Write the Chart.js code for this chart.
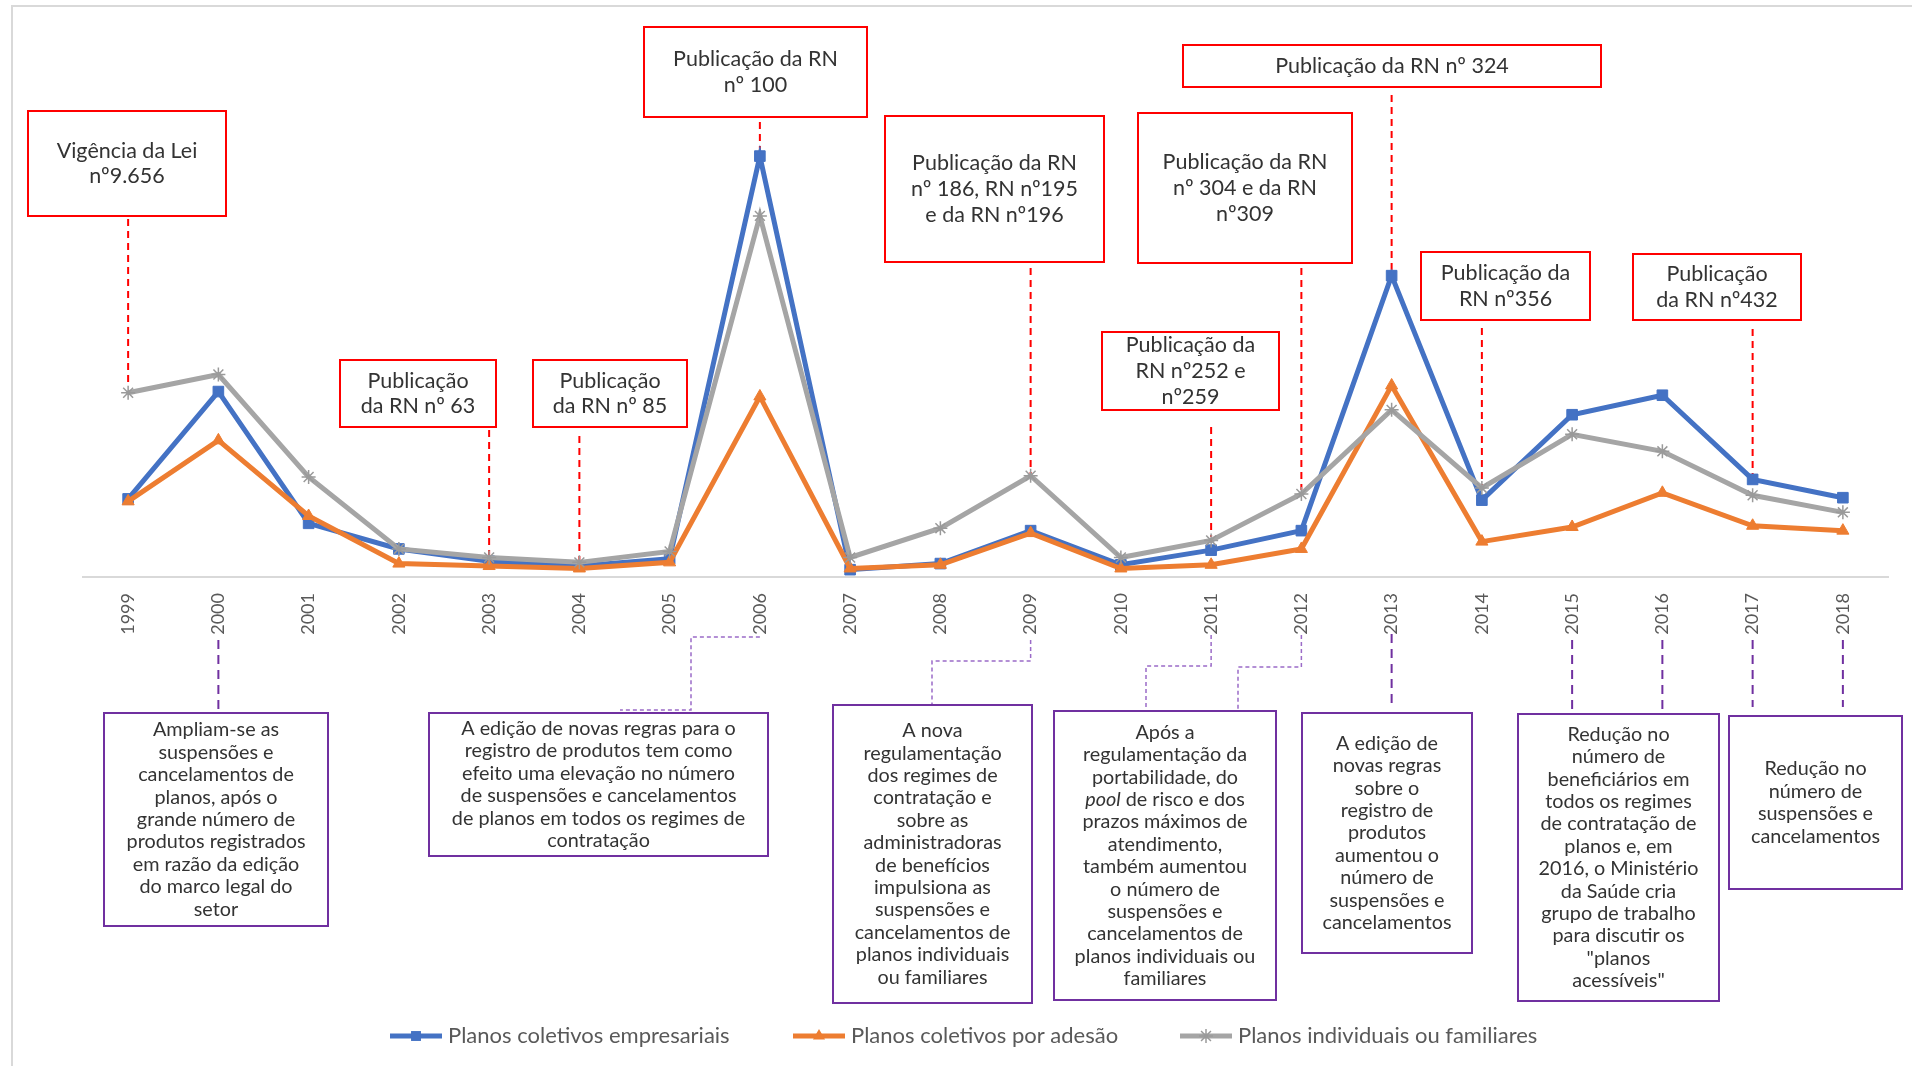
<!DOCTYPE html>
<html><head><meta charset="utf-8">
<script src="https://cdn.jsdelivr.net/npm/chart.js@4.4.1/dist/chart.umd.min.js"></script>
<style>
html,body{margin:0;padding:0;background:#fff;overflow:hidden}
#wrap{position:absolute;left:0;top:0;width:1912px;height:1066px;overflow:hidden}
#frame{position:absolute;left:11px;top:5px;width:1920px;height:1100px;border-left:2px solid #d9d9d9;border-top:2px solid #d9d9d9}
canvas{position:absolute;left:0;top:0}
</style></head><body>
<div id="wrap"><div id="frame"></div><canvas id="c" width="1912" height="1066"></canvas></div>
<script>
// ---- data ----
const years = ['1999','2000','2001','2002','2003','2004','2005','2006','2007','2008','2009','2010','2011','2012','2013','2014','2015','2016','2017','2018'];
const seriesNames = ['Planos coletivos empresariais','Planos coletivos por adesão','Planos individuais ou familiares'];
const empresariais = [1280,3040,880,460,260,180,300,6900,120,220,760,200,440,760,4940,1260,2660,2980,1600,1300];
const adesao       = [1240,2240,1000,220,180,140,240,2960,140,200,720,140,200,460,3140,580,820,1380,840,760];
const individuais  = [3020,3320,1640,460,320,240,420,5920,320,800,1660,320,600,1360,2740,1460,2340,2060,1340,1060];

// ---- annotations (text) ----
const redNotes = [
  {year:0,  lines:['Vigência da Lei','nº9.656']},
  {year:7,  lines:['Publicação da RN','nº 100']},
  {year:4,  lines:['Publicação','da RN nº 63']},
  {year:5,  lines:['Publicação','da RN nº 85']},
  {year:10, lines:['Publicação da RN','nº 186, RN nº195','e da RN nº196']},
  {year:13, lines:['Publicação da RN','nº 304 e da RN','nº309']},
  {year:14, lines:['Publicação da RN nº 324']},
  {year:12, lines:['Publicação da','RN nº252 e','nº259']},
  {year:15, lines:['Publicação da','RN nº356']},
  {year:18, lines:['Publicação','da RN nº432']}
];
const purpleNotes = [
  {years:[1], lines:['Ampliam-se as','suspensões e','cancelamentos de','planos, após o','grande número de','produtos registrados','em razão da edição','do marco legal do','setor']},
  {years:[7], lines:['A edição de novas regras para o','registro de produtos tem como','efeito uma elevação no número','de suspensões e cancelamentos','de planos em todos os regimes de','contratação']},
  {years:[10], lines:['A nova','regulamentação','dos regimes de','contratação e','sobre as','administradoras','de benefícios','impulsiona as','suspensões e','cancelamentos de','planos individuais','ou familiares']},
  {years:[12,13], lines:['Após a','regulamentação da','portabilidade, do',[['pool',true],[' de risco e dos',false]],'prazos máximos de','atendimento,','também aumentou','o número de','suspensões e','cancelamentos de','planos individuais ou','familiares']},
  {years:[14], lines:['A edição de','novas regras','sobre o','registro de','produtos','aumentou o','número de','suspensões e','cancelamentos']},
  {years:[16,17], lines:['Redução no','número de','beneficiários em','todos os regimes','de contratação de','planos e, em','2016, o Ministério','da Saúde cria','grupo de trabalho','para discutir os','"planos','acessíveis"']},
  {years:[18,19], lines:['Redução no','número de','suspensões e','cancelamentos']}
];

// ---- layout of annotations (pixels) ----
const redLayout = [
  {box:[28,111,198,105], ln:[219,386]},
  {box:[644,27,223,90], ln:[122,160]},
  {box:[340,360,156,67], ln:[430,558]},
  {box:[533,360,154,67], ln:[436,563]},
  {box:[885,116,219,146], ln:[268,476]},
  {box:[1138,113,214,150], ln:[268,490]},
  {box:[1183,45,418,42], ln:[95,274]},
  {box:[1102,332,177,78], ln:[427,537]},
  {box:[1421,252,169,68], ln:[328,488]},
  {box:[1633,254,168,66], ln:[329,476]}
];
const purpleLayout = [
  {box:[104,713,224,213], conn:[{type:'v',y:[640,713]}]},
  {box:[429,713,339,143], conn:[{type:'e',pts:[[null,637],[691,637],[691,710],[620,710]]}]},
  {box:[833,705,199,298], conn:[{type:'e',pts:[[null,640],[null,661],[932,661],[932,705]]}]},
  {box:[1054,711,222,289], conn:[{type:'e',pts:[[null,635],[null,666],[1146,666],[1146,711]]},{type:'e',pts:[[null,635],[null,667],[1238,667],[1238,711]]}]},
  {box:[1302,713,170,240], conn:[{type:'v',y:[634,707]}]},
  {box:[1518,714,201,287], conn:[{type:'v',y:[640,718]},{type:'v',y:[640,718]}]},
  {box:[1729,716,173,173], conn:[{type:'v',y:[640,707]},{type:'v',y:[640,707]}]}
];
const legendX = [390,793,1180];

const FONT = 'Lato, "Open Sans", sans-serif';
const TXT = '#333333';

function drawTextBlock(ctx, lines, cx, cy, lh, size, sx){
  const n = lines.length;
  let y = cy - (n-1)*lh/2;
  ctx.fillStyle = TXT; ctx.textBaseline='middle'; ctx.textAlign='left';
  for(const ln of lines){
    const segs = Array.isArray(ln) ? ln : [[ln,false]];
    let w = 0;
    for(const s of segs){ ctx.font = (s[1]?'italic ':'')+size+'px '+FONT; w += ctx.measureText(s[0]).width; }
    ctx.save();
    ctx.translate(cx, y); ctx.scale(sx,1);
    let x = -w/2;
    for(const s of segs){ ctx.font = (s[1]?'italic ':'')+size+'px '+FONT; ctx.fillText(s[0], x, 0); x += ctx.measureText(s[0]).width; }
    ctx.restore();
    y += lh;
  }
}

function marker(ctx, style, x, y, r, color){
  ctx.save(); ctx.fillStyle=color; ctx.strokeStyle=color;
  if(style==='rect'){ const s=r*Math.SQRT1_2; ctx.fillRect(x-s,y-s,2*s,2*s); }
  else if(style==='triangle'){ ctx.beginPath(); ctx.moveTo(x, y-r); ctx.lineTo(x+r*0.866, y+r*0.5); ctx.lineTo(x-r*0.866,y+r*0.5); ctx.closePath(); ctx.fill(); }
  else { ctx.lineWidth=1.5; ctx.beginPath(); for(let a=0;a<4;a++){ const t=a*Math.PI/4; ctx.moveTo(x-r*Math.cos(t),y-r*Math.sin(t)); ctx.lineTo(x+r*Math.cos(t),y+r*Math.sin(t)); } ctx.stroke(); }
  ctx.restore();
}

const annot = {
  id:'annot',
  beforeDatasetsDraw(chart){
    const ctx = chart.ctx, xs = chart.scales.x;
    ctx.save();
    redNotes.forEach((n,i)=>{
      const L = redLayout[i], [bx,by,bw,bh] = L.box;
      const px = xs.getPixelForValue(n.year);
      ctx.strokeStyle='#FF0000'; ctx.lineWidth=2; ctx.setLineDash([7,5]);
      ctx.beginPath(); ctx.moveTo(px,L.ln[0]); ctx.lineTo(px,L.ln[1]); ctx.stroke();
      ctx.setLineDash([]);
      ctx.fillStyle='#fff'; ctx.fillRect(bx,by,bw,bh);
      ctx.strokeRect(bx,by,bw,bh);
      drawTextBlock(ctx, n.lines, bx+bw/2, by+bh/2, 25.6, 21.5, 1);
    });
    purpleNotes.forEach((n,i)=>{
      const L = purpleLayout[i], [bx,by,bw,bh] = L.box;
      L.conn.forEach((c,j)=>{
        const px = xs.getPixelForValue(n.years[j]);
        ctx.beginPath();
        if(c.type==='v'){
          ctx.strokeStyle='#7030A0'; ctx.lineWidth=2; ctx.setLineDash([9,6]);
          ctx.moveTo(px,c.y[0]); ctx.lineTo(px,c.y[1]);
        } else {
          ctx.strokeStyle='#9B6BC8'; ctx.lineWidth=1.5; ctx.setLineDash([4,3]);
          c.pts.forEach((p,k)=>{ const x = p[0]===null?px:p[0]; if(k===0) ctx.moveTo(x,p[1]); else ctx.lineTo(x,p[1]); });
        }
        ctx.stroke();
      });
      ctx.setLineDash([]);
      ctx.fillStyle='#fff'; ctx.fillRect(bx,by,bw,bh);
      ctx.strokeStyle='#7030A0'; ctx.lineWidth=2; ctx.strokeRect(bx,by,bw,bh);
      drawTextBlock(ctx, n.lines, bx+bw/2, by+bh/2, 22.4, 20, 0.99);
    });
    ctx.restore();
  },
  afterDraw(chart){
    const ctx = chart.ctx;
    ctx.save();
    chart.data.datasets.forEach((ds,i)=>{
      const x0 = legendX[i], y = 1036;
      ctx.strokeStyle = ds.borderColor; ctx.lineWidth = 5; ctx.lineCap='butt';
      ctx.beginPath(); ctx.moveTo(x0,y); ctx.lineTo(x0+52,y); ctx.stroke();
      marker(ctx, ds.pointStyle, x0+26, y, 7, ds.pointBorderColor || ds.borderColor);
      ctx.fillStyle='#595959'; ctx.font='22px '+FONT; ctx.textBaseline='middle'; ctx.textAlign='left';
      ctx.fillText(ds.label, x0+58, y);
    });
    ctx.restore();
  }
};

new Chart(document.getElementById('c'), {
  type:'line',
  data:{
    labels: years,
    datasets:[
      {label:seriesNames[0], data:empresariais, borderColor:'#4472C4', backgroundColor:'#4472C4', borderWidth:5, tension:0,
       pointStyle:'rect', pointRadius:7.5, pointBackgroundColor:'#4472C4', pointBorderColor:'#4472C4', pointBorderWidth:1, order:3},
      {label:seriesNames[1], data:adesao, borderColor:'#ED7D31', backgroundColor:'#ED7D31', borderWidth:5, tension:0,
       pointStyle:'triangle', pointRadius:7, pointBackgroundColor:'#ED7D31', pointBorderColor:'#ED7D31', pointBorderWidth:1, order:2},
      {label:seriesNames[2], data:individuais, borderColor:'#A5A5A5', backgroundColor:'#A5A5A5', borderWidth:5, tension:0,
       pointStyle:'star', pointRadius:7, pointBackgroundColor:'#A5A5A5', pointBorderColor:'#9a9a9a', pointBorderWidth:1.5, order:1}
    ]
  },
  options:{
    responsive:false, animation:false, devicePixelRatio:1,
    layout:{padding:{left:83,right:24,top:28,bottom:0}},
    plugins:{legend:{display:false}, tooltip:{enabled:false}},
    scales:{
      x:{offset:true, grid:{display:false}, border:{display:true,color:'#D9D9D9',width:2},
         ticks:{autoSkip:false, minRotation:90, maxRotation:90, padding:8, color:'#595959', font:{family:'Lato', size:18}},
         afterFit(s){ s.height = 489; }},
      y:{display:false, min:0, max:9000}
    }
  },
  plugins:[annot]
});
</script>
</body></html>
